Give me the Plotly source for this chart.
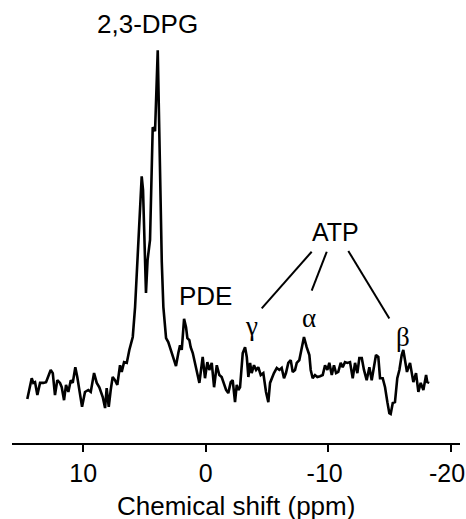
import plotly.graph_objects as go

# 31P spectrum: chemical shift (ppm) and intensity (a.u., tallest peak = 100)
shift_ppm = [14.56, 14.20, 14.07, 13.93, 13.74, 13.52, 13.25, 13.03, 12.65, 12.48,
             12.30, 12.11, 11.89, 11.75, 11.56, 11.40, 11.21, 11.01, 10.85, 10.64,
             10.48, 10.31, 10.09, 9.85, 9.58, 9.38, 9.11, 8.89, 8.68, 8.40,
             8.21, 8.08, 7.91, 7.75, 7.59, 7.40, 7.21, 6.99, 6.85, 6.66,
             6.44, 6.23, 5.95, 5.76, 5.63, 5.50, 5.36, 5.22, 5.11, 4.99,
             4.87, 4.74, 4.54, 4.32, 4.13, 3.91, 3.76, 3.67, 3.58, 3.45,
             3.23, 3.05, 2.91, 2.77, 2.58, 2.42, 2.23, 2.09, 1.95, 1.76,
             1.60, 1.49, 1.33, 1.22, 1.05, 0.87, 0.73, 0.51, 0.24, 0.05,
             -0.14, -0.30, -0.50, -0.69, -0.91, -1.12, -1.31, -1.50, -1.67, -1.85,
             -2.05, -2.21, -2.40, -2.54, -2.67, -2.81, -3.03, -3.22, -3.36, -3.49,
             -3.63, -3.76, -3.95, -4.12, -4.30, -4.50, -4.71, -4.93, -5.12, -5.26,
             -5.40, -5.58, -5.81, -6.02, -6.21, -6.40, -6.56, -6.75, -6.95, -7.11,
             -7.30, -7.44, -7.65, -7.85, -8.03, -8.25, -8.47, -8.58, -8.74, -8.93,
             -9.12, -9.34, -9.56, -9.75, -9.94, -10.10, -10.30, -10.48, -10.65, -10.83,
             -11.03, -11.19, -11.38, -11.57, -11.79, -12.01, -12.20, -12.39, -12.55, -12.75,
             -12.93, -13.15, -13.37, -13.56, -13.75, -13.91, -14.10, -14.24, -14.46, -14.65,
             -14.84, -15.00, -15.11, -15.28, -15.46, -15.65, -15.82, -16.01, -16.14, -16.28,
             -16.44, -16.69, -16.96, -17.18, -17.37, -17.56, -17.78, -18.00, -18.10, -18.26]

intensity = [11.2, 16.5, 15.3, 15.5, 12.2, 15.3, 15.3, 15.5, 18.6, 17.8,
             12.2, 16.0, 15.3, 14.2, 10.9, 14.8, 13.0, 16.0, 15.3, 19.3,
             16.8, 13.0, 9.2, 13.0, 13.5, 13.0, 17.8, 15.3, 14.2, 11.7,
             8.9, 14.0, 9.2, 13.5, 16.8, 16.0, 14.8, 19.8, 18.1, 20.6,
             20.4, 23.7, 27.0, 34.6, 43.3, 51.7, 61.8, 67.9, 64.4, 49.1,
             38.2, 46.6, 51.7, 80.4, 79.4, 100.0, 74.6, 51.7, 46.1, 34.6,
             26.7, 25.7, 24.4, 22.9, 21.1, 19.6, 22.9, 24.9, 23.7, 31.6,
             29.5, 26.7, 26.2, 24.4, 22.9, 20.4, 17.8, 15.3, 21.9, 16.5,
             20.6, 18.6, 20.4, 14.2, 19.8, 17.3, 16.8, 14.8, 13.5, 12.7,
             15.5, 16.0, 10.4, 14.8, 13.5, 14.2, 22.9, 24.4, 21.9, 16.8,
             20.4, 17.8, 19.8, 18.6, 19.3, 17.3, 17.8, 13.0, 10.4, 15.3,
             16.5, 17.8, 19.1, 18.6, 19.1, 16.5, 17.8, 20.4, 21.1, 18.1,
             18.6, 20.4, 21.1, 24.4, 27.0, 24.4, 22.4, 18.6, 16.5, 17.3,
             16.8, 17.0, 17.3, 19.8, 18.6, 20.4, 17.3, 19.8, 17.8, 18.1,
             20.4, 19.3, 20.6, 20.4, 20.6, 16.5, 20.4, 17.8, 21.6, 21.6,
             18.6, 16.0, 19.3, 16.0, 19.3, 22.4, 21.9, 16.5, 16.5, 14.2,
             10.4, 7.6, 7.4, 10.2, 10.4, 16.5, 18.6, 22.4, 23.7, 20.6,
             18.1, 20.4, 15.5, 17.8, 13.0, 15.3, 13.5, 17.3, 15.5, 15.3]

tick_values = [10, 0, -10, -20]
tick_labels = ["10", "0", "-10&nbsp;", "-20&nbsp;"]

# peak labels: (text, ppm, intensity, serif?, font size)
peak_labels = [("2,3-DPG", 4.74, 106.6, False, 26),
               ("PDE", -0.03, 37.4, False, 26),
               ("ATP", -10.61, 53.7, False, 25),
               ("γ", -3.76, 29.8, True, 27),
               ("α", -8.45, 31.8, True, 27),
               ("β", -16.12, 27.0, True, 27)]

# leader lines from the ATP label: (ppm0, int0, ppm1, int1)
atp_lines = [(-8.66, 48.7, -4.58, 34.3),
             (-9.89, 48.7, -8.66, 38.8),
             (-11.65, 48.9, -15.00, 31.7)]

sans = "Liberation Sans, Arial, Helvetica, sans-serif"
serif = "Liberation Serif, Times New Roman, serif"

fig = go.Figure()
fig.add_trace(go.Scatter(x=shift_ppm, y=intensity, mode="lines",
                         line=dict(color="black", width=2.6), hoverinfo="skip",
                         showlegend=False))

for text, px, py, is_serif, fsize in peak_labels:
    fig.add_annotation(x=px, y=py, xref="x", yref="y", text=text, showarrow=False,
                       xanchor="center", yanchor="middle",
                       font=dict(family=serif if is_serif else sans,
                                 size=fsize, color="black"))

for x0, y0, x1, y1 in atp_lines:
    fig.add_shape(type="line", xref="x", yref="y", x0=x0, y0=y0, x1=x1, y1=y1,
                  line=dict(color="black", width=2))

fig.add_annotation(x=0.5, y=-0.145, xref="paper", yref="paper",
                   text="Chemical shift (ppm)", showarrow=False,
                   xanchor="center", yanchor="middle",
                   font=dict(family=sans, size=26, color="black"))

fig.update_layout(
    width=466, height=519,
    margin=dict(l=12, r=6, t=11, b=76, autoexpand=False),
    paper_bgcolor="white", plot_bgcolor="white",
    font=dict(family=sans, color="black"),
    xaxis=dict(range=[15.81, -20.77], tickvals=tick_values, ticktext=tick_labels,
               showline=True, linecolor="black", linewidth=2,
               ticks="outside", ticklen=7, tickwidth=2, tickcolor="black",
               showgrid=False, zeroline=False, ticklabeloverflow="allow",
               automargin=False,
               tickfont=dict(family=sans, size=25, color="black")),
    yaxis=dict(range=[0, 110], visible=False, showgrid=False, zeroline=False,
               automargin=False),
)

fig.write_html("out.html",
               config={"displayModeBar": False},
               post_script="document.body.style.margin='0';"
                           "document.body.style.overflow='hidden';")
